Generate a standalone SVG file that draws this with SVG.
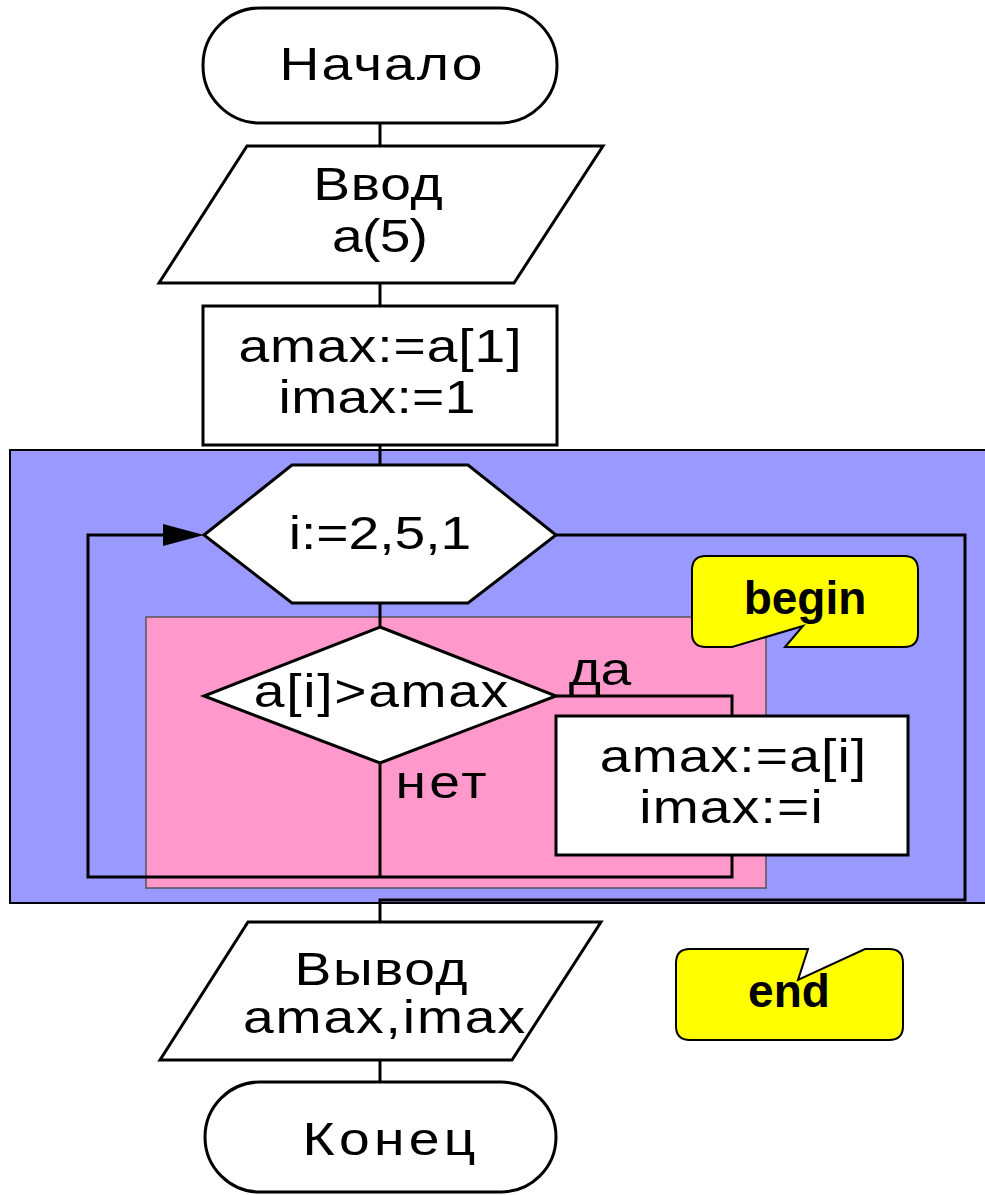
<svg xmlns="http://www.w3.org/2000/svg" width="985" height="1195" viewBox="0 0 985 1195">
<style>
.sh{fill:#fff;stroke:#000;stroke-width:3}
.ln{fill:none;stroke:#000;stroke-width:3}
.t{font-family:"Liberation Sans",Arial,sans-serif;font-size:46px;fill:#000;text-anchor:middle}
.cb{fill:#ffff00;stroke:#000;stroke-width:2}
.b{font-family:"Liberation Sans",Arial,sans-serif;font-size:46px;font-weight:bold;fill:#000;text-anchor:middle}
</style>
<g id="loopArea">
<rect x="10" y="450" width="985" height="453" fill="#9999ff" stroke="#000" stroke-width="2"/>
<rect x="146" y="617" width="620" height="271" fill="#ff99cc" stroke="#555" stroke-width="1.5"/>
</g>
<g id="connectors">
<line class="ln" x1="380" y1="122" x2="380" y2="146"/>
<line class="ln" x1="380" y1="283" x2="380" y2="306"/>
<line class="ln" x1="380" y1="445" x2="380" y2="465"/>
<line class="ln" x1="380" y1="603" x2="380" y2="627"/>
<polyline class="ln" points="556,696 732,696 732,716"/>
<line class="ln" x1="380" y1="763" x2="380" y2="877"/>
<polyline class="ln" points="732,855 732,877 88,877 88,535 164,535"/>
<path d="M163,524 L204,535 L163,546 z" fill="#000"/>
<polyline class="ln" points="556,535 965,535 965,900 380,900 380,922"/>
<line class="ln" x1="380" y1="1060" x2="380" y2="1082"/>
</g>
<g id="start">
<rect class="sh" x="203" y="8" width="354" height="115" rx="57" ry="57"/>
<text class="t" transform="translate(381,80) scale(1.2,1)" textLength="169" lengthAdjust="spacing">Начало</text>
</g>
<g id="input">
<polygon class="sh" points="247,146 603,146 514,283 159,283"/>
<text class="t" transform="translate(378,200) scale(1.2,1)" textLength="108" lengthAdjust="spacing">Ввод</text>
<text class="t" transform="translate(380,252) scale(1.2,1)" textLength="80" lengthAdjust="spacing">a(5)</text>
</g>
<g id="init">
<rect class="sh" x="203" y="306" width="354" height="139"/>
<text class="t" transform="translate(380,362) scale(1.2,1)" textLength="236" lengthAdjust="spacing">amax:=a[1]</text>
<text class="t" transform="translate(377,413) scale(1.2,1)" textLength="164" lengthAdjust="spacing">imax:=1</text>
</g>
<g id="loop">
<polygon class="sh" points="204,535 292,465 468,465 556,535 468,603 292,603"/>
<text class="t" transform="translate(380,549) scale(1.2,1)" textLength="152" lengthAdjust="spacing">i:=2,5,1</text>
</g>
<g id="cond">
<polygon class="sh" points="380,627 556,696 380,763 204,696"/>
<text class="t" transform="translate(381,707) scale(1.2,1)" textLength="212" lengthAdjust="spacing">a[i]&gt;amax</text>
<text class="t" transform="translate(600,685) scale(1.2,1)" textLength="52" lengthAdjust="spacing">да</text>
<text class="t" transform="translate(441,798) scale(1.2,1)" textLength="76" lengthAdjust="spacing">нет</text>
</g>
<g id="assign">
<rect class="sh" x="556" y="716" width="352" height="139"/>
<text class="t" transform="translate(733,772) scale(1.2,1)" textLength="222" lengthAdjust="spacing">amax:=a[i]</text>
<text class="t" transform="translate(731,823) scale(1.2,1)" textLength="153" lengthAdjust="spacing">imax:=i</text>
</g>
<g id="output">
<polygon class="sh" points="248,922 601,922 512,1060 160,1060"/>
<text class="t" transform="translate(381,985) scale(1.2,1)" textLength="144" lengthAdjust="spacing">Вывод</text>
<text class="t" transform="translate(384,1033) scale(1.2,1)" textLength="235" lengthAdjust="spacing">amax,imax</text>
</g>
<g id="end">
<rect class="sh" x="205" y="1082" width="351" height="110" rx="55" ry="55"/>
<text class="t" transform="translate(389,1155) scale(1.2,1)" textLength="144" lengthAdjust="spacing">Конец</text>
</g>
<g id="beginNote">
<path class="cb" d="M706,556 L904,556 Q918,556 918,570 L918,633 Q918,647 904,647 L785,647 L803,626 L732,647 L706,647 Q692,647 692,633 L692,570 Q692,556 706,556 Z"/>
<text class="b" x="805" y="614">begin</text>
</g>
<g id="endNote">
<path class="cb" d="M690,949 L808,949 L798,980 L865,949 L889,949 Q903,949 903,963 L903,1026 Q903,1040 889,1040 L690,1040 Q676,1040 676,1026 L676,963 Q676,949 690,949 Z"/>
<text class="b" x="789" y="1007">end</text>
</g>
</svg>
